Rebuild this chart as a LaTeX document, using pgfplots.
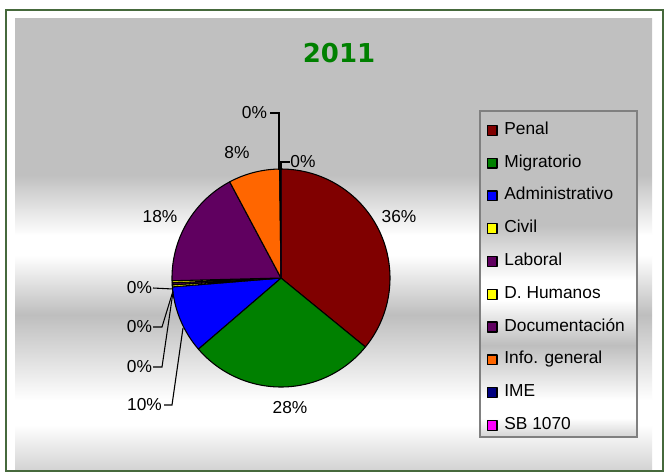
\documentclass[border=0pt]{standalone}
\usepackage{pgfplots}
\pgfplotsset{compat=1.18}
\usepackage{pgfplotstable}
\usepackage{fontspec}
\setmainfont{Liberation Sans}
\newfontfamily\titlefont{DejaVu Sans}

\definecolor{cPenal}{RGB}{128,0,0}
\definecolor{cMig}{RGB}{0,128,0}
\definecolor{cAdm}{RGB}{0,0,255}
\definecolor{cCiv}{RGB}{255,255,0}
\definecolor{cLab}{RGB}{96,0,96}
\definecolor{cDH}{RGB}{255,255,0}
\definecolor{cDoc}{RGB}{96,0,96}
\definecolor{cInfo}{RGB}{255,102,0}
\definecolor{cIME}{RGB}{0,0,128}
\definecolor{cSB}{RGB}{255,0,255}
\definecolor{bgG}{RGB}{192,192,192}
\definecolor{bgG2}{RGB}{190,190,190}
\definecolor{bgB}{RGB}{212,212,212}
\definecolor{frameG}{RGB}{70,105,60}
\definecolor{titleG}{RGB}{0,128,0}
\definecolor{legBorder}{RGB}{128,128,128}

\pgfdeclareverticalshading{chrome}{100bp}{color(0bp)=(bgB); color(25bp)=(bgB); color(29.9bp)=(white); color(32.6bp)=(white); color(42.1bp)=(bgG2); color(48.7bp)=(white); color(50.9bp)=(white); color(57.6bp)=(bgG); color(75bp)=(bgG); color(100bp)=(bgG)}
\pgfdeclareverticalshading{legchrome}{100bp}{color(0bp)=(bgB); color(25bp)=(bgB); color(27.9bp)=(white); color(30.7bp)=(white); color(39.1bp)=(bgG2); color(46bp)=(white); color(49.1bp)=(white); color(57.5bp)=(bgG); color(75bp)=(bgG); color(100bp)=(bgG)}

\pgfplotstableread[col sep=comma]{
name,value,color
Penal,35.9,cPenal
Migratorio,27.8,cMig
Administrativo,10.0,cAdm
Civil,0.3,cCiv
Laboral,0.3,cLab
D. Humanos,0.3,cDH
Documentación,17.6,cDoc
Info. general,7.6,cInfo
IME,0.1,cIME
SB 1070,0.1,cSB
}\piedata

\pgfplotsset{pieslice/.style={legend image code/.code={\draw[##1, draw=black, line width=1pt] (0pt,-3.7pt) rectangle (7.4pt,3.7pt);}}}
\tikzset{lbl/.style={font=\fontsize{13}{15}\selectfont, inner sep=0pt}, lead/.style={black, line width=0.8pt}}

\begin{document}
\begin{tikzpicture}
\begin{axis}[
  scale only axis, width=498.75pt, height=354pt,
  xmin=0, xmax=665, ymin=0, ymax=472, y dir=reverse,
  hide axis, clip=false,
  legend cell align=left,
  legend style={at={(0.7316,0.7409)}, anchor=north west, draw=none, fill=none,
    inner sep=0pt, outer sep=0pt, row sep=12.6pt,
    nodes={inner sep=0pt, text height=9pt, text depth=3pt, font=\fontsize{13}{15}\selectfont},
    /tikz/every odd column/.append style={column sep=5pt}},
]
\fill[white] (axis cs:0,0) rectangle (axis cs:665,472);
\draw[frameG, line width=1.2pt] (axis cs:6,10) rectangle (axis cs:663,471);
\shade[shading=chrome] (axis cs:15,18) rectangle (axis cs:652,469);
\shade[shading=legchrome] (axis cs:480,111) rectangle (axis cs:637,437);
\draw[legBorder, line width=0.8pt] (axis cs:480,111) rectangle (axis cs:637,437);

\node[font=\titlefont\bfseries\fontsize{19.5}{22}\selectfont, text=titleG] at (axis cs:339,53) {2011};

\pgfplotstablegetrowsof{\piedata}
\pgfmathtruncatemacro{\nrows}{\pgfplotsretval-1}
\def\cumangle{90}
\pgfplotsforeachungrouped \i in {0,...,\nrows}{%
  \pgfplotstablegetelem{\i}{value}\of\piedata \let\val\pgfplotsretval
  \pgfplotstablegetelem{\i}{color}\of\piedata \let\col\pgfplotsretval
  \pgfplotstablegetelem{\i}{name}\of\piedata \let\nm\pgfplotsretval
  \pgfmathsetmacro{\endangle}{\cumangle-3.6*\val}%
  \edef\temp{\noexpand\addplot[pieslice, fill=\col, draw=black, line width=0.8pt, line join=round, domain=\endangle:\cumangle, samples=90, variable=\noexpand\t] ({281+109*cos(\noexpand\t)},{278-109*sin(\noexpand\t)}) -- (axis cs:281,278) -- cycle; \noexpand\addlegendentry{\nm}}%
  \temp
  \global\let\cumangle\endangle
}

\node[lbl] at (axis cs:399,217) {36\%};
\node[lbl] at (axis cs:290,408) {28\%};
\node[lbl] at (axis cs:160,217) {18\%};
\node[lbl] at (axis cs:237,153) {8\%};
\node[lbl] at (axis cs:144.5,405) {10\%};
\node[lbl] at (axis cs:139.5,288) {0\%};
\node[lbl] at (axis cs:139.5,327) {0\%};
\node[lbl] at (axis cs:139.5,367) {0\%};
\node[lbl] at (axis cs:254.5,113) {0\%};
\node[lbl] at (axis cs:303,162) {0\%};

\draw[lead] (axis cs:153,288) -- (axis cs:173,289);
\draw[lead] (axis cs:153,327) -- (axis cs:162,327) -- (axis cs:173,291);
\draw[lead] (axis cs:153,367) -- (axis cs:162,367) -- (axis cs:173,292);
\draw[lead] (axis cs:164,405) -- (axis cs:172,405) -- (axis cs:183,328);
\draw[lead] (axis cs:270,113) -- (axis cs:279,113) -- (axis cs:279,170);
\draw[lead] (axis cs:290,162) -- (axis cs:281,162) -- (axis cs:281,170);
\end{axis}
\end{tikzpicture}
\end{document}
